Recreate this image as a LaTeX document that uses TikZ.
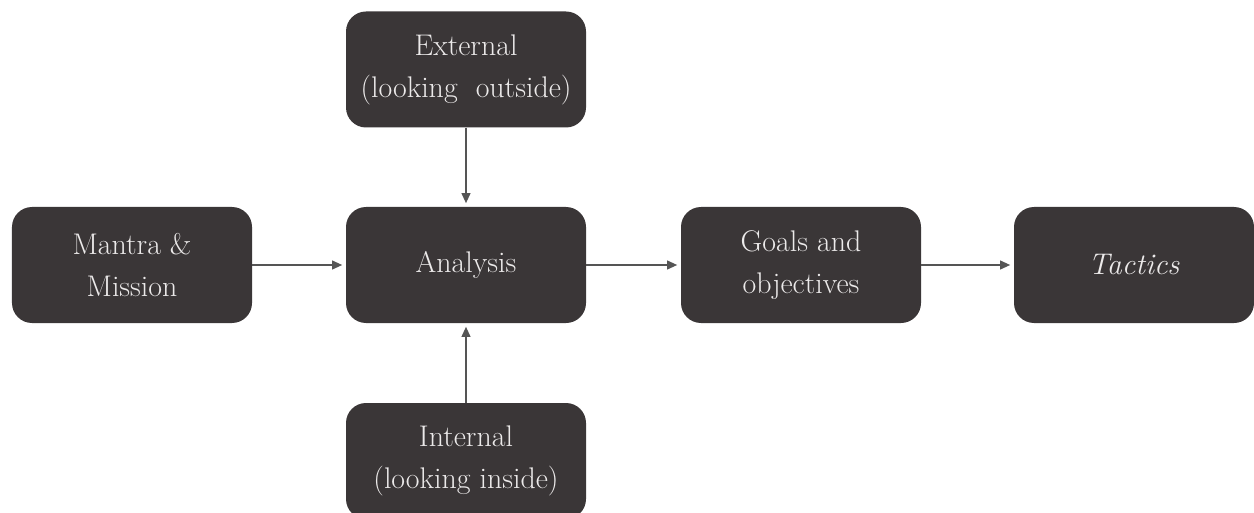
\documentclass[tikz,border=0pt]{standalone}
\usepackage{xcolor}
\usetikzlibrary{arrows.meta,positioning}
\definecolor{boxfill}{HTML}{3A3637}
\definecolor{boxtext}{HTML}{ECEAEA}
\definecolor{arrowgray}{HTML}{555555}
\begin{document}
\begin{tikzpicture}[>={Triangle[length=0.2cm,width=0.18cm]},
  blk/.style={rectangle,rounded corners=0.4cm,fill=boxfill,text=boxtext,minimum width=4.8cm,minimum height=2.32cm,align=center,font=\fontsize{17}{24}\selectfont},
  lnk/.style={->,draw=arrowgray,fill=arrowgray,line width=0.6pt,shorten >=2pt}]
\useasboundingbox (0,0) rectangle (25.08,10.24);
\node[blk] (mantra) at (2.64,4.94) {Mantra \&\\Mission};
\node[blk] (analysis) at (9.32,4.94) {Analysis};
\node[blk] (goals) at (16.02,4.94) {Goals and\\objectives};
\node[blk] (tactics) at (22.68,4.94) {\textit{Tactics}};
\node[blk] (external) at (9.32,8.85) {External\\(looking\ \ outside)};
\node[blk] (internal) at (9.32,1.02) {Internal\\(looking inside)};
\draw[lnk] (mantra)--(analysis);\draw[lnk] (analysis)--(goals);\draw[lnk] (goals)--(tactics);
\draw[lnk] (external)--(analysis);\draw[lnk] (internal)--(analysis);
\end{tikzpicture}
\end{document}
